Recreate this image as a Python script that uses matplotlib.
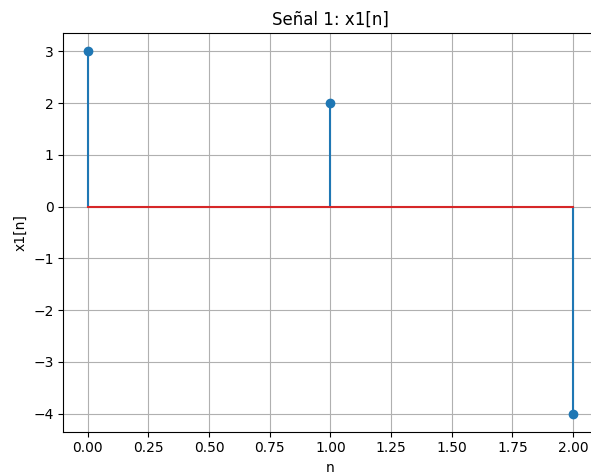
import matplotlib
matplotlib.use("Agg")
import matplotlib.pyplot as plt

n = [0, 1, 2]
x1 = [3, 2, -4]

fig, ax = plt.subplots(figsize=(5.91, 4.74), dpi=100)
fig.subplots_adjust(left=0.1073, right=1.0107, top=0.9297, bottom=0.0893)

ax.stem(n, x1)
ax.set_title("Señal 1: x1[n]")
ax.set_xlabel("n")
ax.set_ylabel("x1[n]")
ax.grid(True)

fig.savefig("out.png", dpi=100)
